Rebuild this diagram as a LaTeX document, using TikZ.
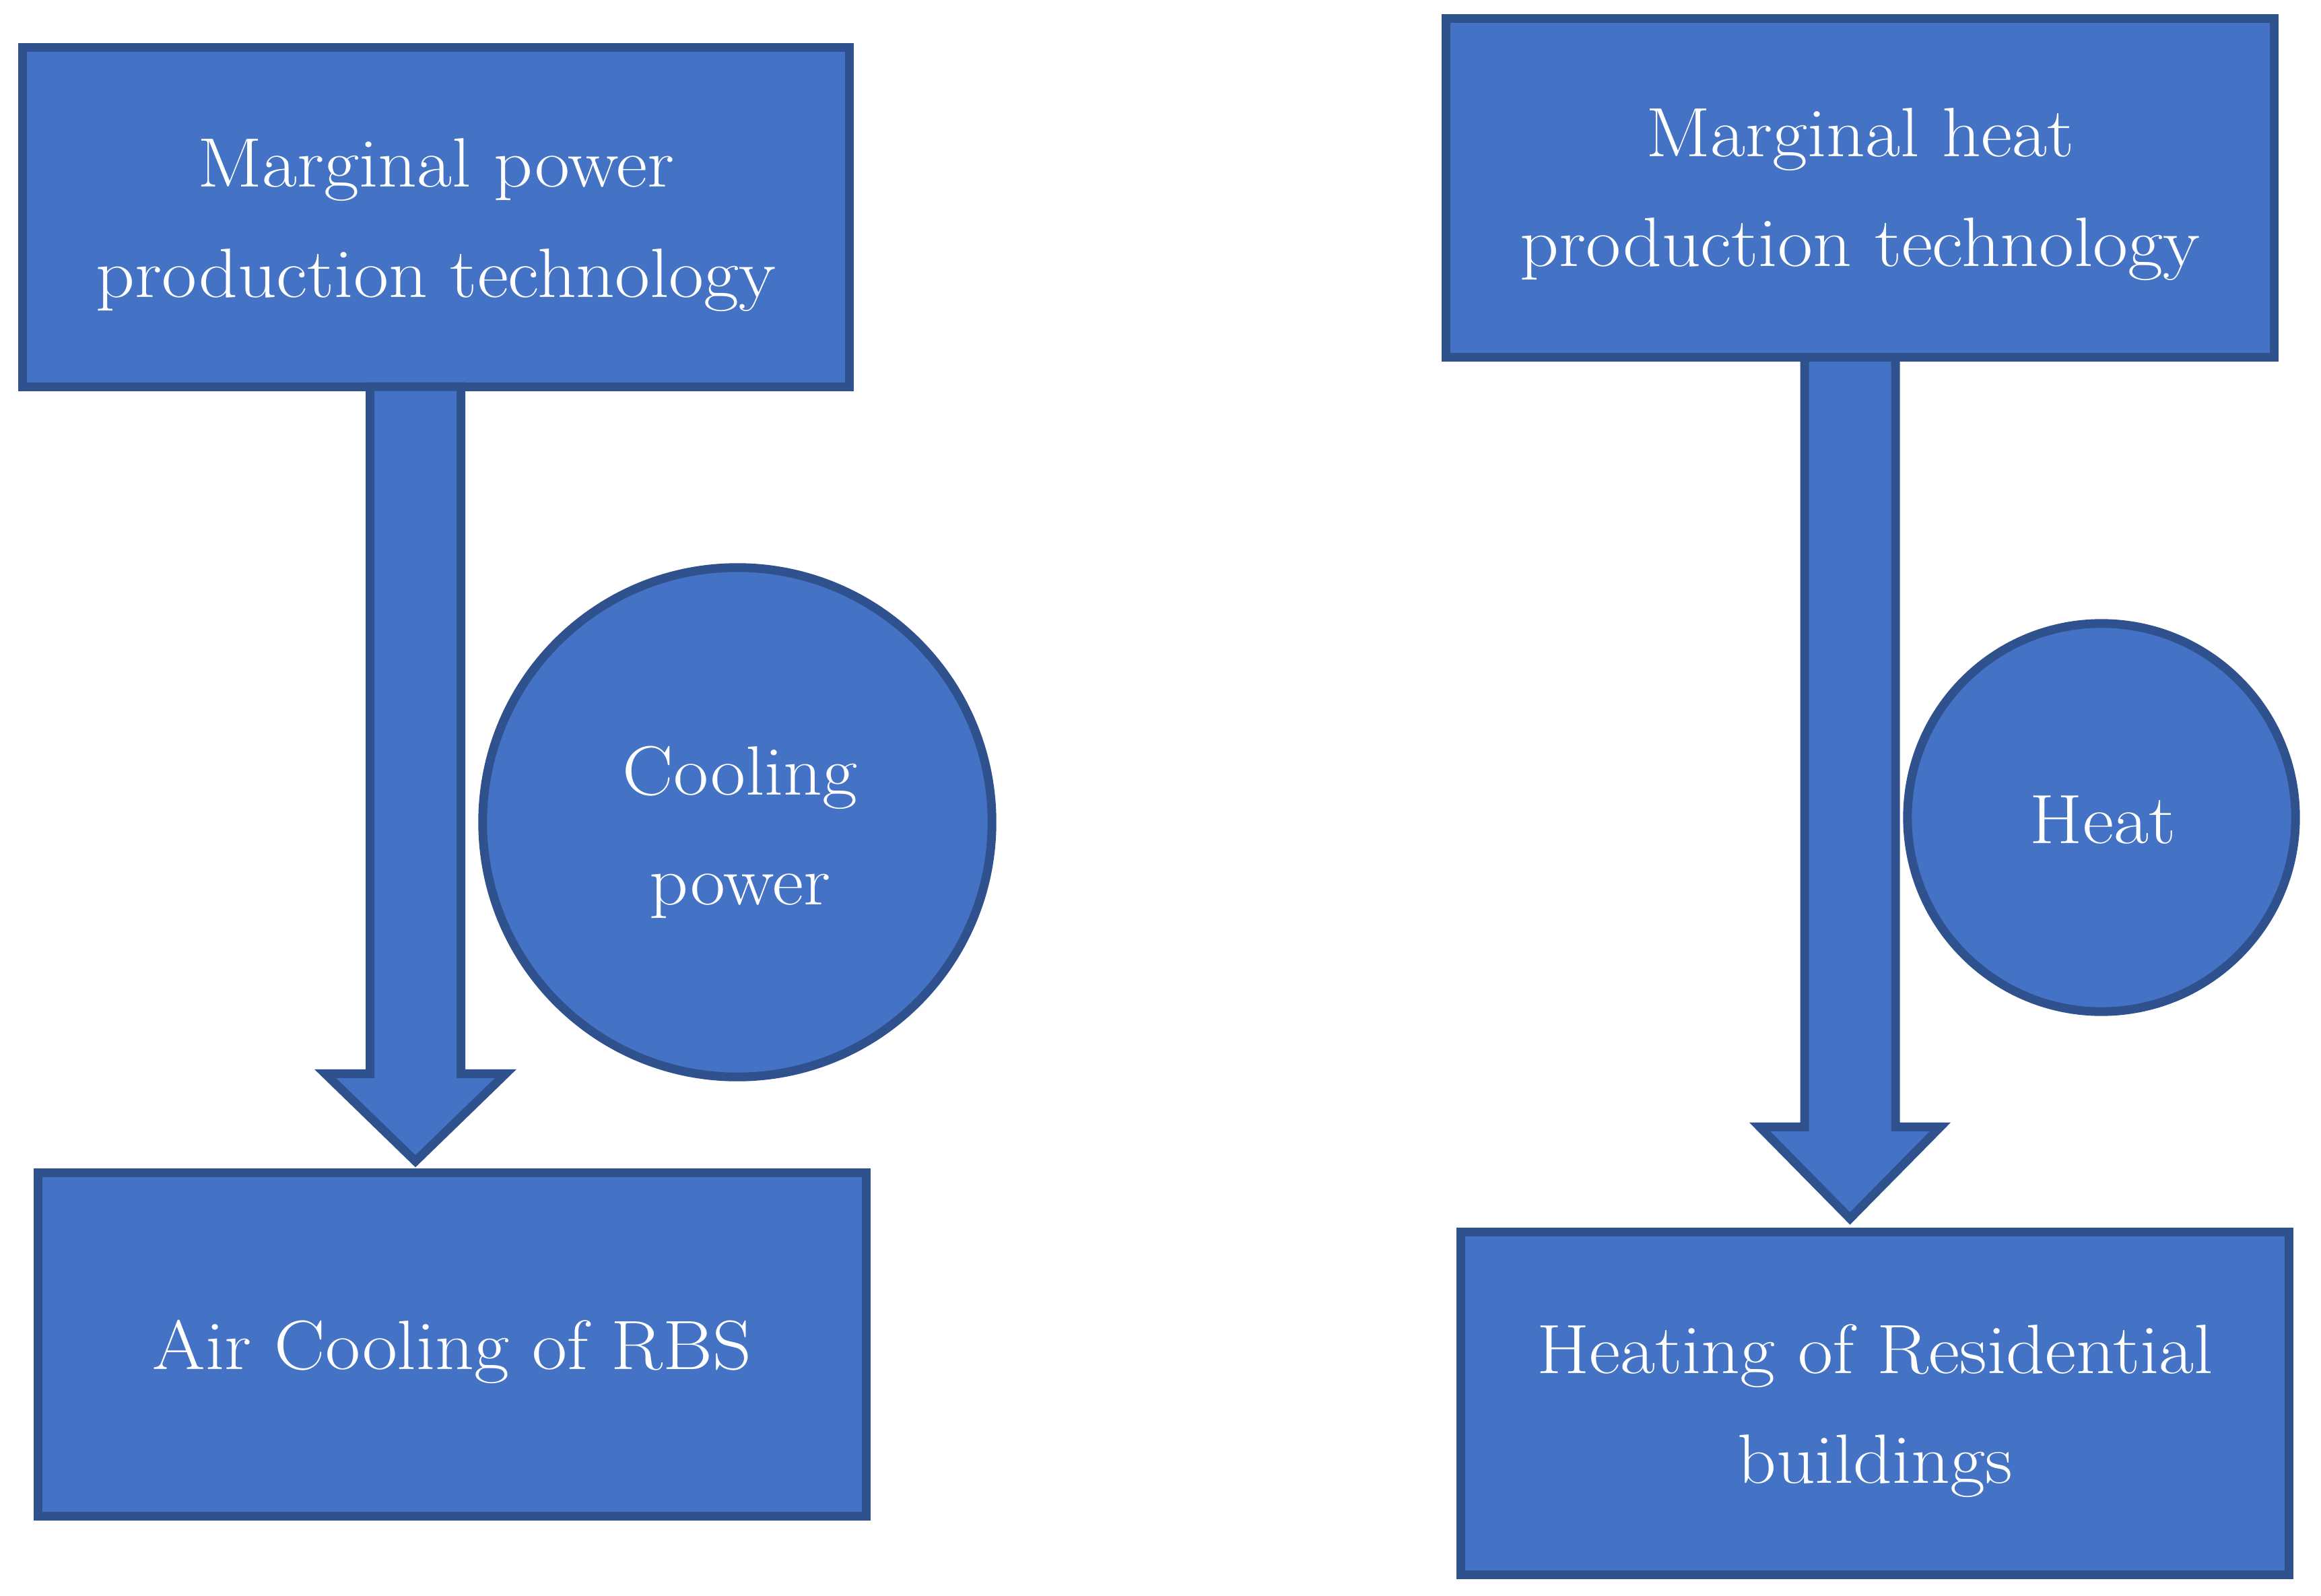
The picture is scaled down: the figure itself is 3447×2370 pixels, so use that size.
\documentclass[tikz,border=0pt]{standalone}
\usepackage{fontspec}
\setmainfont{Latin Modern Roman}[FakeStretch=1.09]
\usetikzlibrary{calc}
\definecolor{fillblue}{HTML}{4472C4}
\definecolor{edgeblue}{HTML}{2F528F}
\newcommand{\downblock}[3]{%
  \draw[barrow] ($(#1)+(-67.5,0)$) -- ($(#2)+(-67.5,-#3)$) -- ($(#2)+(-134,-#3)$) -- (#2)
    -- ($(#2)+(134,-#3)$) -- ($(#2)+(67.5,-#3)$) -- ($(#1)+(67.5,0)$) -- cycle;}
\begin{document}
\begin{tikzpicture}[x=0.01cm, y=-0.01cm,
  box/.style={draw=edgeblue, fill=fillblue, line width=0.13cm, rectangle, inner sep=0pt, outer sep=0pt},
  disc/.style={draw=edgeblue, fill=fillblue, line width=0.13cm, circle, inner sep=0pt, outer sep=0pt},
  txt/.style={text=white, align=center, inner sep=0pt, font=\fontsize{29.5}{46.4}\selectfont},
  barrow/.style={draw=edgeblue, fill=fillblue, line width=0.13cm, line join=miter}]
\useasboundingbox (0,0) rectangle (3447,2370);

% boxes
\node[box, minimum width=12.27cm, minimum height=5.03cm] (b1) at (647.5,322.5) {};
\node[box, minimum width=12.30cm, minimum height=5.10cm] (b2) at (671.5,1996.5) {};
\node[box, minimum width=12.30cm, minimum height=5.03cm] (b3) at (2762.5,279) {};
\node[box, minimum width=12.30cm, minimum height=5.09cm] (b4) at (2784.5,2084) {};

% circles
\node[disc, minimum size=7.56cm] (c1) at (1095,1221) {};
\node[disc, minimum size=5.76cm] (c2) at (3121,1214) {};

% block arrows
\coordinate (a1s) at ($(b1.south)+(-30.5,0)$);
\coordinate (a1e) at ($(b2.north)+(-54.5,-17)$);
\coordinate (a2s) at ($(b3.south)+(-15,0)$);
\coordinate (a2e) at ($(b4.north)+(-37,-20)$);
\downblock{a1s}{a1e}{130}
\downblock{a2s}{a2e}{136}

% texts
\node[txt] (t1) at ($(b1)+(0,11.5)$) {Marginal power\\production technology};
\node[txt] (t2) at ($(b2)+(0,11)$) {Air Cooling of RBS};
\node[txt] (t3) at ($(b3)+(0,10)$) {Marginal heat\\production technology};
\node[txt] (t4) at ($(b4)+(0,11)$) {Heating of Residential\\buildings};
\node[txt] (t5) at ($(c1)+(4,15)$) {Cooling\\power};
\node[txt] (t6) at ($(c2)+(2,3)$) {Heat};
\end{tikzpicture}
\end{document}
